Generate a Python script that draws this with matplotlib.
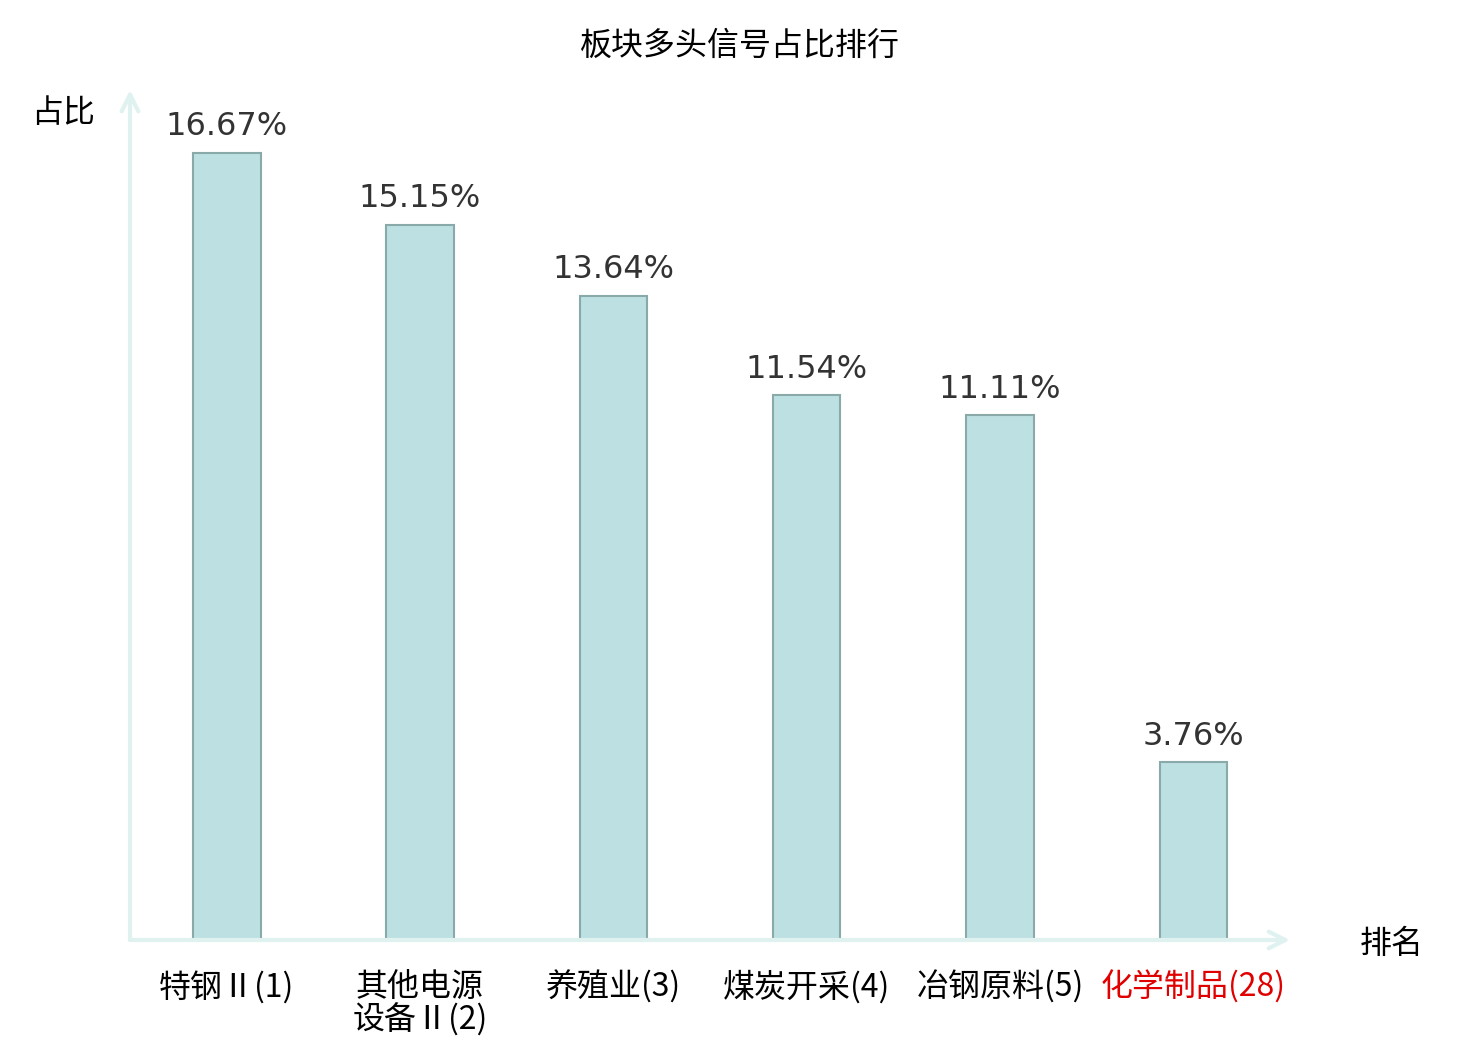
import matplotlib
matplotlib.use("Agg")
import matplotlib.pyplot as plt
import numpy as np

# 数据
sectors = ['特钢Ⅱ(1)', '其他电源\n设备Ⅱ(2)', '养殖业(3)', '煤炭开采(4)', '冶钢原料(5)', '化学制品(28)']
ratios = [16.67, 15.15, 13.64, 11.54, 11.11, 3.76]
highlight = [False, False, False, False, False, True]

plt.rcParams['font.family'] = ['Noto Sans CJK SC', 'DejaVu Sans']

fig = plt.figure(figsize=(14.8, 10.4), dpi=100)
ax = fig.add_axes([130 / 1480, 100 / 1040, 1160 / 1480, 850 / 1040])

x = np.arange(len(sectors))
bars = ax.bar(x, ratios, width=0.35, color='#bde0e3', edgecolor='#8aa9a9', linewidth=1.5)

for xi, v in zip(x, ratios):
    ax.text(xi, v + 0.22, '{:.2f}%'.format(v), ha='center', va='bottom',
            fontsize=23, color='#333333', family='DejaVu Sans')

ax.set_xlim(-0.5, 5.5)
ax.set_ylim(0, 18)
for s in ax.spines.values():
    s.set_visible(False)
ax.set_yticks([])
ax.set_xticks(x)
ax.set_xticklabels(sectors, fontsize=23, linespacing=1.05)
ax.tick_params(axis='x', length=0, pad=22)
for lbl, hl in zip(ax.get_xticklabels(), highlight):
    if hl:
        lbl.set_color('#e00000')

# 坐标轴箭头
arrow_color = '#dff2ef'
ax.annotate('', xy=(1.0, 0), xytext=(0, 0), xycoords='axes fraction',
            arrowprops=dict(arrowstyle='->', color=arrow_color, lw=3,
                            mutation_scale=30, shrinkA=0, shrinkB=0),
            annotation_clip=False)
ax.annotate('', xy=(0, 1.0), xytext=(0, 0), xycoords='axes fraction',
            arrowprops=dict(arrowstyle='->', color=arrow_color, lw=3,
                            mutation_scale=30, shrinkA=0, shrinkB=0),
            annotation_clip=False)

fig.text(63 / 1480, 1 - 113 / 1040, '占比', fontsize=23, ha='center', va='center')
fig.text(1392 / 1480, 1 - 944 / 1040, '排名', fontsize=23, ha='center', va='center')
fig.text(740 / 1480, 1 - 46 / 1040, '板块多头信号占比排行', fontsize=23, ha='center', va='center')

fig.savefig('out.png', dpi=100)
